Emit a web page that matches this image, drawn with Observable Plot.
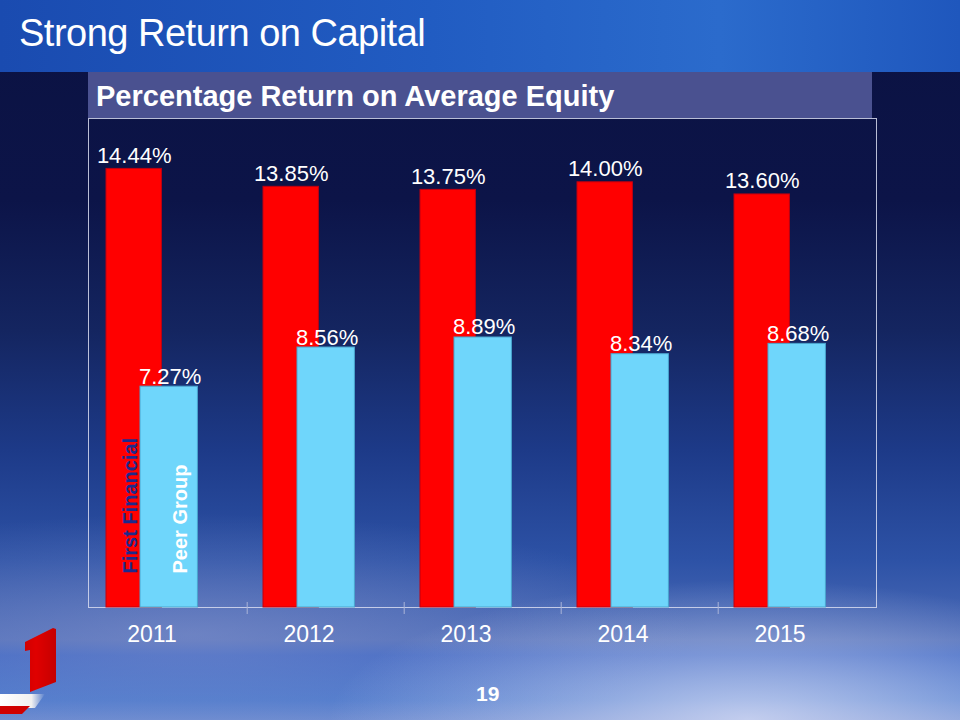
<!DOCTYPE html>
<html>
<head>
<meta charset="utf-8">
<script src="https://cdn.jsdelivr.net/npm/d3@7"></script>
<script src="https://cdn.jsdelivr.net/npm/@observablehq/plot@0.6"></script>
<style>
html, body { margin: 0; padding: 0; }
body {
  width: 960px; height: 720px; position: relative; overflow: hidden;
  font-family: "Liberation Sans", Arial, sans-serif;
  background:
    radial-gradient(ellipse 420px 140px at 78% 100%, rgba(225,228,248,0.75), rgba(225,228,248,0) 100%),
    radial-gradient(ellipse 500px 120px at 20% 88%, rgba(150,160,210,0.45), rgba(150,160,210,0) 100%),
    linear-gradient(to bottom, #0b1242 0px, #0c1448 200px, #142560 330px, #1d3a88 450px, #2d52a6 560px, #4d6cb8 640px, #3a64c2 655px, #4a78cc 700px, #6a8ad0 720px);
}
#band { position: absolute; left: 0; top: 0; width: 960px; height: 72px;
  background: linear-gradient(90deg, #1a4bb0 0%, #215cc2 45%, #2b6bcc 75%, #1f57bd 100%); }
#title { position: absolute; left: 19px; top: 12px; color: #fff; font-size: 38px; white-space: nowrap; letter-spacing: -0.5px; }
#header { position: absolute; left: 88px; top: 72px; width: 784px; height: 46px; background: #4a5190; }
#header span { position: absolute; left: 8px; top: 8px; color: #fff; font-weight: bold; font-size: 29px; white-space: nowrap; }
#chart { position: absolute; left: 0; top: 118px; }
#page { position: absolute; left: 476px; top: 682px; color: #fff; font-weight: bold; font-size: 21px; }
#logo { position: absolute; left: 0; top: 620px; width: 60px; height: 80px; background: linear-gradient(90deg, #b00000, #e00000 60%, #c00000);
  clip-path: polygon(25px 22px, 53px 8px, 56px 9px, 56px 62px, 30px 72px, 30px 30px, 25px 31px); }
#stripe { position: absolute; left: 0; top: 694px; width: 45px; height: 14px;
  background: linear-gradient(90deg, #ffffff 0%, #f0f0f0 70%, rgba(255,255,255,0) 100%);
  clip-path: polygon(0 0, 45px 0, 35px 14px, 0 14px); }
#stripe2 { position: absolute; left: 0; top: 706px; width: 30px; height: 8px; background: #d00000;
  clip-path: polygon(0 0, 30px 0, 22px 8px, 0 8px); }
</style>
</head>
<body>
<div id="band"></div>
<div id="title">Strong Return on Capital</div>
<div id="header"><span>Percentage Return on Average Equity</span></div>
<div id="chart"></div>
<div id="logo"></div>
<div id="stripe"></div>
<div id="stripe2"></div>
<div id="page">19</div>
<script>
const years = ["2011", "2012", "2013", "2014", "2015"];
const firstFinancial = [14.44, 13.85, 13.75, 14.00, 13.60];
const peerGroup = [7.27, 8.56, 8.89, 8.34, 8.68];
const seriesNames = ["First Financial", "Peer Group"];

const ff = years.map((y, i) => ({year: y, value: firstFinancial[i], label: firstFinancial[i].toFixed(2) + "%"}));
const pg = years.map((y, i) => ({year: y, value: peerGroup[i], label: peerGroup[i].toFixed(2) + "%"}));

const bw = 788 / years.length;

const plot = Plot.plot({
  width: 960,
  height: 540,
  marginLeft: 88,
  marginRight: 84,
  marginTop: 0,
  marginBottom: 51,
  style: {background: "transparent", color: "white", fontFamily: "Liberation Sans, Arial, sans-serif"},
  x: {type: "band", domain: years, padding: 0, label: null},
  y: {domain: [0, 16.1], axis: null},
  marks: [
    Plot.frame({stroke: "#d8dcf0", strokeOpacity: 0.85}),
    Plot.ruleX(years.slice(1), {x: d => d, dx: -bw / 2, insetTop: 484, insetBottom: -7, stroke: "#aab4d8"}),
    Plot.barY(ff, {x: "year", y: "value", fill: "#ff0000", stroke: "#c00010", strokeWidth: 1, insetLeft: 16, insetRight: bw - 72}),
    Plot.barY(pg, {x: "year", y: "value", fill: "#6fd6fb", stroke: "#4aa6cf", strokeWidth: 1, insetLeft: 50, insetRight: bw - 108}),
    Plot.text(ff, {x: "year", y: "value", text: "label", dx: 44 - bw / 2, dy: -6, lineAnchor: "bottom", fill: "white", fontSize: 22}),
    Plot.text(pg, {x: "year", y: "value", text: "label", dx: 80 - bw / 2, dy: -3, lineAnchor: "bottom", fill: "white", fontSize: 22}),
    Plot.text([seriesNames[0]], {x: () => years[0], y: () => 0, text: d => d, rotate: -90, textAnchor: "start", lineAnchor: "middle", dx: 40 - bw / 2, dy: -34, fill: "#1c2a8c", fontWeight: "bold", fontSize: 20}),
    Plot.text([seriesNames[1]], {x: () => years[0], y: () => 0, text: d => d, rotate: -90, textAnchor: "start", lineAnchor: "middle", dx: 90 - bw / 2, dy: -34, fill: "white", fontWeight: "bold", fontSize: 20}),
    Plot.axisX({tickSize: 0, tickPadding: 18, fontSize: 23, fill: "white", dx: -17, label: null})
  ]
});
document.getElementById("chart").appendChild(plot);
</script>
</body>
</html>
